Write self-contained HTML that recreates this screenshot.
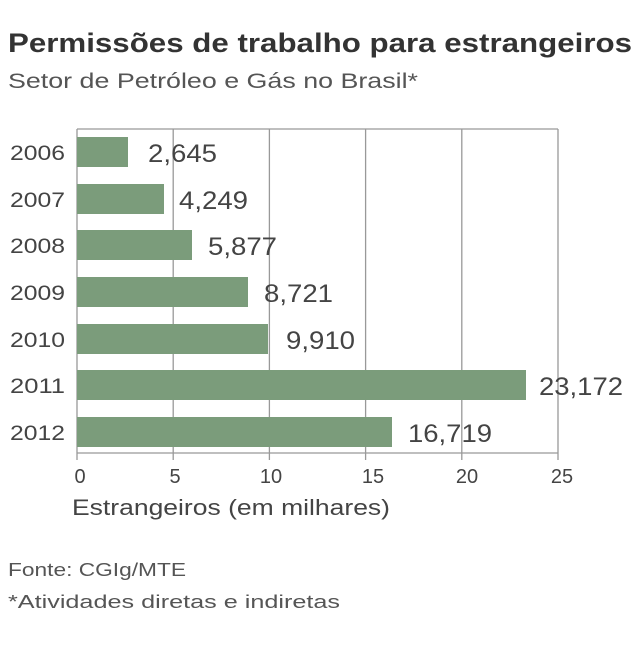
<!DOCTYPE html>
<html><head><style>
body{margin:0;background:#fff;}
svg text{font-family:"Liberation Sans",sans-serif;fill:#444;}
</style></head><body>
<svg width="640" height="640" xmlns="http://www.w3.org/2000/svg">
<text x="8" y="52" font-size="27" font-weight="bold" style="fill:#333" textLength="624" lengthAdjust="spacingAndGlyphs">Permissões de trabalho para estrangeiros</text>
<text x="8" y="88" font-size="21" style="fill:#555" textLength="410" lengthAdjust="spacingAndGlyphs">Setor de Petróleo e Gás no Brasil*</text>
<g stroke="#999" stroke-width="1.3" fill="none">
<line x1="77" y1="129" x2="558" y2="129"/>
<line x1="77" y1="129" x2="77" y2="453"/>
<line x1="558" y1="129" x2="558" y2="453"/>
<line x1="77" y1="453" x2="558" y2="453"/>
<line x1="173.2" y1="129" x2="173.2" y2="460"/>
<line x1="269.4" y1="129" x2="269.4" y2="460"/>
<line x1="365.6" y1="129" x2="365.6" y2="460"/>
<line x1="461.8" y1="129" x2="461.8" y2="460"/>
<line x1="77" y1="453" x2="77" y2="460"/>
<line x1="558" y1="453" x2="558" y2="460"/>
</g>
<g fill="#7b9c7b">
<rect x="77" y="137" width="51" height="30"/>
<rect x="77" y="184" width="87" height="30"/>
<rect x="77" y="230" width="115" height="30"/>
<rect x="77" y="277" width="171" height="30"/>
<rect x="77" y="324" width="191" height="30"/>
<rect x="77" y="370" width="449" height="30"/>
<rect x="77" y="417" width="315" height="30"/>
</g>
<g font-size="21">
<text x="10" y="160" textLength="55" lengthAdjust="spacingAndGlyphs">2006</text>
<text x="10" y="207" textLength="55" lengthAdjust="spacingAndGlyphs">2007</text>
<text x="10" y="253" textLength="55" lengthAdjust="spacingAndGlyphs">2008</text>
<text x="10" y="300" textLength="55" lengthAdjust="spacingAndGlyphs">2009</text>
<text x="10" y="347" textLength="55" lengthAdjust="spacingAndGlyphs">2010</text>
<text x="10" y="393" textLength="55" lengthAdjust="spacingAndGlyphs">2011</text>
<text x="10" y="440" textLength="55" lengthAdjust="spacingAndGlyphs">2012</text>
</g>
<g font-size="25">
<text x="148" y="162" textLength="69" lengthAdjust="spacingAndGlyphs">2,645</text>
<text x="179" y="209" textLength="69" lengthAdjust="spacingAndGlyphs">4,249</text>
<text x="208" y="255" textLength="69" lengthAdjust="spacingAndGlyphs">5,877</text>
<text x="264" y="302" textLength="69" lengthAdjust="spacingAndGlyphs">8,721</text>
<text x="286" y="349" textLength="69" lengthAdjust="spacingAndGlyphs">9,910</text>
<text x="539" y="395" textLength="84" lengthAdjust="spacingAndGlyphs">23,172</text>
<text x="408" y="442" textLength="84" lengthAdjust="spacingAndGlyphs">16,719</text>
</g>
<g font-size="20" text-anchor="middle">
<text x="80" y="483">0</text>
<text x="175" y="483">5</text>
<text x="271" y="483">10</text>
<text x="373" y="483">15</text>
<text x="467" y="483">20</text>
<text x="562" y="483">25</text>
</g>
<text x="72" y="515" font-size="22" textLength="318" lengthAdjust="spacingAndGlyphs">Estrangeiros (em milhares)</text>
<text x="8" y="576" font-size="18" style="fill:#555" textLength="178" lengthAdjust="spacingAndGlyphs">Fonte: CGIg/MTE</text>
<text x="8" y="608" font-size="18" style="fill:#555" textLength="332" lengthAdjust="spacingAndGlyphs">*Atividades diretas e indiretas</text>
</svg>
</body></html>
